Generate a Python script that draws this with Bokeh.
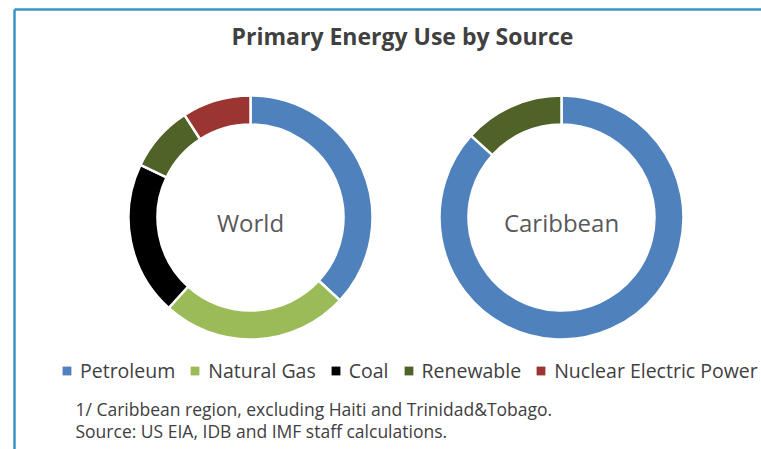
import numpy as np
from bokeh.plotting import figure
from bokeh.models import ColumnDataSource, Range1d, Legend, LegendItem
from bokeh.core.properties import value
from bokeh.embed import file_html
from bokeh.resources import INLINE

# ---------------- data ----------------
energy_sources = ["Petroleum", "Natural Gas", "Coal", "Renewable", "Nuclear Electric Power"]
world_share = [36.9, 24.8, 20.4, 8.8, 9.1]
caribbean_share = [86.7, 0.0, 0.0, 13.3, 0.0]
source_colors = ["#4F81BD", "#9BBB59", "#000000", "#4F6228", "#9B3532"]
donut_names = ["World", "Caribbean"]
chart_title = "Primary Energy Use by Source"
footnotes = ["1/ Caribbean region, excluding Haiti and Trinidad&Tobago.",
             "Source: US EIA, IDB and IMF staff calculations."]

# ---------------- layout ----------------
W, H = 761, 449
FONT = "Open Sans"
TEXT_COLOR = "#404040"
R_OUT, R_IN = 122, 93
centers = [(250, H - 217), (561, H - 217)]

p = figure(width=W, height=H, x_range=Range1d(0, W), y_range=Range1d(0, H),
           output_backend="svg", toolbar_location=None, min_border=0,
           x_axis_location=None, y_axis_location=None)
p.grid.visible = False
p.outline_line_color = None
p.background_fill_color = "white"
p.border_fill_color = "white"

# frame decoration lines (blue border top/left)
p.segment(x0=[14, 14], y0=[H - 9, H - 9], x1=[W, 14], y1=[H - 9, 0],
          line_color="#3A93C4", line_width=2.5)


def donut(values, cx, cy):
    vals = np.array(values, dtype=float)
    frac = vals / vals.sum()
    cum = np.concatenate([[0.0], np.cumsum(frac)])
    start = np.pi / 2 - 2 * np.pi * cum[:-1]
    end = np.pi / 2 - 2 * np.pi * cum[1:]
    keep = vals > 0
    src = ColumnDataSource(dict(
        x=[cx] * int(keep.sum()), y=[cy] * int(keep.sum()),
        start=start[keep], end=end[keep],
        color=[c for c, k in zip(source_colors, keep) if k],
    ))
    p.annular_wedge(x="x", y="y", inner_radius=R_IN, outer_radius=R_OUT,
                    start_angle="start", end_angle="end", direction="clock",
                    fill_color="color", line_color="white", line_width=2.5,
                    source=src)


donut(world_share, *centers[0])
donut(caribbean_share, *centers[1])

# centre labels
p.text(x=[c[0] for c in centers], y=[H - 222, H - 222], text=donut_names,
       text_font=value(FONT), text_font_size="24px", text_color="#595959",
       text_align="center", text_baseline="middle")

# title
p.text(x=[402], y=[H - 35], text=[chart_title], text_font=value(FONT),
       text_font_style="bold", text_font_size="23px", text_color=TEXT_COLOR,
       text_align="center", text_baseline="middle")

# footnotes
p.text(x=[75, 75], y=[H - 408, H - 430], text=footnotes, text_font=value(FONT),
       text_font_size="17.5px", text_color=TEXT_COLOR,
       text_align="left", text_baseline="middle")

# legend (zero-size rect renderers supply the square swatches)
items = []
for name, col in zip(energy_sources, source_colors):
    r = p.rect(x=[0], y=[0], width=0, height=0, fill_color=col, line_color=None)
    items.append(LegendItem(label=name, renderers=[r]))
legend = Legend(items=items, orientation="horizontal", location=(61, 65),
                label_text_font=FONT, label_text_font_size="19.5px",
                label_text_color=TEXT_COLOR, glyph_width=11, glyph_height=11,
                label_standoff=8, spacing=14, padding=0, margin=0,
                label_height=20, border_line_color=None,
                background_fill_alpha=0)
p.add_layout(legend)

open("out.html", "w").write(file_html(p, INLINE))
